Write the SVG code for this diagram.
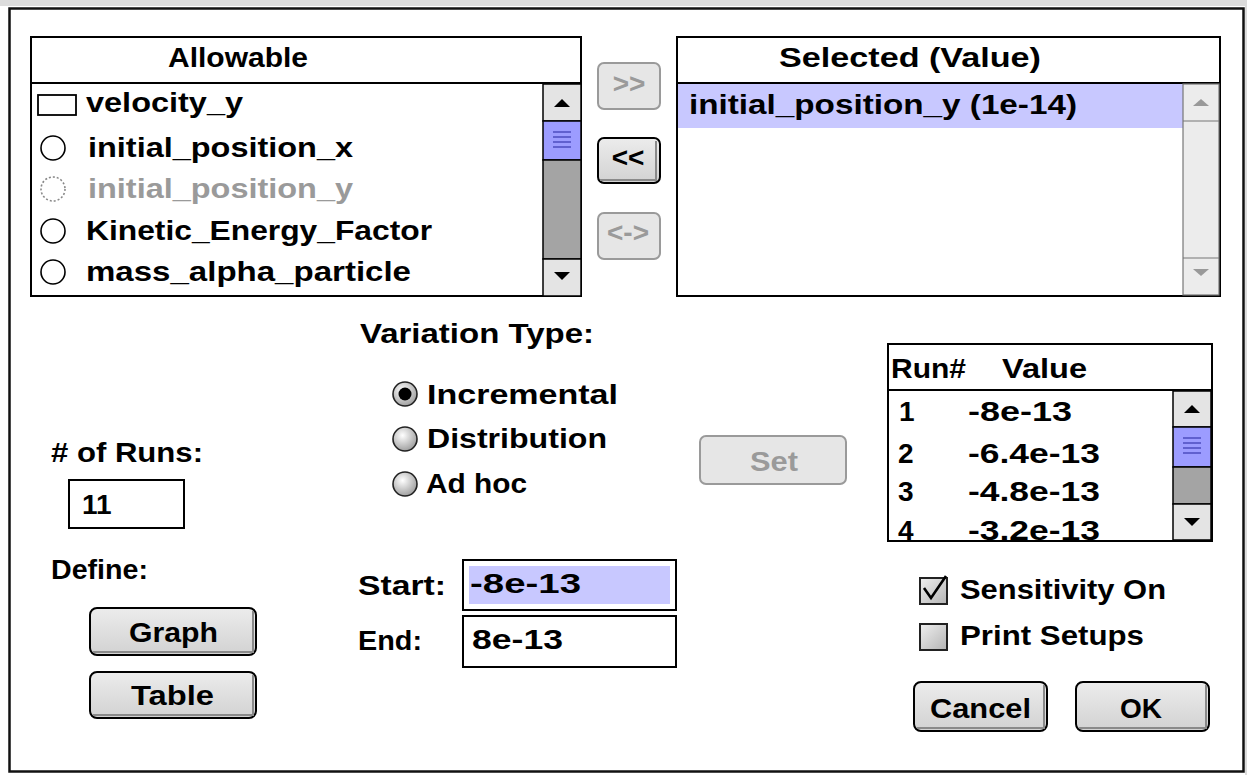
<svg xmlns="http://www.w3.org/2000/svg" width="1247" height="775" viewBox="0 0 1247 775">
  <style>
    .t { font-family: "Liberation Sans", Arial, sans-serif; font-weight: bold; font-size: 28px; fill: #000; }
    .dim { fill: #9a9a9a; }
    .mid { text-anchor: middle; }
    .box { fill: #fff; stroke: #000; stroke-width: 2; }
    .btn { fill: url(#face); stroke: #000; stroke-width: 2; }
    .btnoff { fill: #e6e6e6; stroke: #9a9a9a; stroke-width: 2; }
    .shade { fill: none; stroke: #8a8a8a; stroke-width: 2; }
    .cell { fill: #e4e4e4; stroke: #000; stroke-width: 1.5; }
    .track { fill: #a4a4a4; stroke: #000; stroke-width: 1.5; }
    .thumb { fill: #9c9cff; stroke: #000; stroke-width: 1.5; }
    .grip { stroke: #3a3ab0; stroke-width: 1.2; }
    .sel { fill: #c8c8ff; }
    .radio { fill: url(#ball); stroke: #222; stroke-width: 1.6; }
    .item { fill: #fff; stroke: #000; stroke-width: 1.6; }
  </style>
  <defs>
    <radialGradient id="ball" cx="0.4" cy="0.35" r="0.7">
      <stop offset="0" stop-color="#ffffff"/>
      <stop offset="1" stop-color="#9a9a9a"/>
    </radialGradient>
    <linearGradient id="face" x1="0" y1="0" x2="0" y2="1">
      <stop offset="0" stop-color="#ececec"/>
      <stop offset="1" stop-color="#d2d2d2"/>
    </linearGradient>
    <linearGradient id="chk" x1="0" y1="0" x2="1" y2="1">
      <stop offset="0" stop-color="#f0f0f0"/>
      <stop offset="1" stop-color="#b4b4b4"/>
    </linearGradient>
    <clipPath id="runclip"><rect x="889" y="391" width="284" height="149"/></clipPath>
  </defs>

  <!-- window frame -->
  <rect x="0" y="0" width="1247" height="775" fill="#fff"/>
  <rect x="0" y="0" width="1247" height="6" fill="#dcdcdc"/>
  <rect x="1245" y="0" width="2" height="775" fill="#dcdcdc"/>
  <rect x="9.5" y="8.5" width="1234" height="763" fill="#fff" stroke="#111" stroke-width="2.5"/>

  <!-- Allowable list -->
  <g id="allowable">
    <rect class="box" x="31" y="37" width="550" height="259"/>
    <line x1="31" y1="83" x2="581" y2="83" stroke="#000" stroke-width="2"/>
    <text class="t" x="168" y="67" textLength="140" lengthAdjust="spacingAndGlyphs">Allowable</text>
    <rect x="38" y="95" width="38" height="20" fill="#fff" stroke="#000" stroke-width="1.8"/>
    <text class="t" x="86" y="112" textLength="157" lengthAdjust="spacingAndGlyphs">velocity_y</text>
    <circle class="item" cx="53" cy="148" r="12"/>
    <text class="t" x="88" y="157" textLength="265" lengthAdjust="spacingAndGlyphs">initial_position_x</text>
    <circle cx="53" cy="189" r="12" fill="#fff" stroke="#888" stroke-width="1.6" stroke-dasharray="2 2"/>
    <text class="t dim" x="88" y="198" textLength="265" lengthAdjust="spacingAndGlyphs" font-weight="normal">initial_position_y</text>
    <circle class="item" cx="53" cy="231" r="12"/>
    <text class="t" x="86" y="240" textLength="346" lengthAdjust="spacingAndGlyphs">Kinetic_Energy_Factor</text>
    <circle class="item" cx="53" cy="272" r="12"/>
    <text class="t" x="86" y="281" textLength="325" lengthAdjust="spacingAndGlyphs">mass_alpha_particle</text>
    <!-- scrollbar -->
    <rect class="cell" x="543" y="84" width="38" height="37"/>
    <path d="M554 107 L562 99 L570 107 Z" fill="#000"/>
    <rect class="thumb" x="543" y="121" width="38" height="39"/>
    <g class="grip">
      <line x1="553" y1="132" x2="571" y2="132"/>
      <line x1="553" y1="137" x2="571" y2="137"/>
      <line x1="553" y1="142" x2="571" y2="142"/>
      <line x1="553" y1="147" x2="571" y2="147"/>
    </g>
    <rect class="track" x="543" y="160" width="38" height="99"/>
    <rect class="cell" x="543" y="259" width="38" height="37"/>
    <path d="M554 272 L570 272 L562 280 Z" fill="#000"/>
  </g>

  <!-- transfer buttons -->
  <g id="btn-add">
    <rect class="btnoff" x="598" y="63" width="62" height="46" rx="6"/>
    <text class="t dim mid" x="629" y="93" font-size="20">&gt;&gt;</text>
  </g>
  <g id="btn-remove">
    <rect class="btn" x="598" y="138" width="62" height="45" rx="6"/>
    <path class="shade" d="M600 180 H656 V141"/>
    <text class="t mid" x="628" y="167" font-size="20">&lt;&lt;</text>
  </g>
  <g id="btn-swap">
    <rect class="btnoff" x="598" y="213" width="62" height="46" rx="6"/>
    <text class="t dim mid" x="628" y="242" font-size="20">&lt;-&gt;</text>
  </g>

  <!-- Selected list -->
  <g id="selected">
    <rect class="box" x="677" y="37" width="543" height="259"/>
    <line x1="677" y1="83" x2="1220" y2="83" stroke="#000" stroke-width="2"/>
    <text class="t" x="779" y="67" textLength="262" lengthAdjust="spacingAndGlyphs">Selected (Value)</text>
    <rect class="sel" x="678" y="84" width="505" height="44"/>
    <text class="t" x="689" y="114" textLength="388" lengthAdjust="spacingAndGlyphs">initial_position_y (1e-14)</text>
    <rect x="1183" y="84" width="36" height="211" fill="#ececec" stroke="#777" stroke-width="1.2"/>
    <line x1="1183" y1="121" x2="1219" y2="121" stroke="#777" stroke-width="1.2"/>
    <line x1="1183" y1="258" x2="1219" y2="258" stroke="#777" stroke-width="1.2"/>
    <path d="M1193 106 L1201 99 L1209 106 Z" fill="#999"/>
    <path d="M1193 269 L1209 269 L1201 276 Z" fill="#999"/>
  </g>

  <!-- variation type -->
  <g id="variation">
    <text class="t" x="360" y="343" textLength="234" lengthAdjust="spacingAndGlyphs">Variation Type:</text>
    <circle class="radio" cx="405" cy="394" r="12"/>
    <circle cx="405" cy="394" r="6.5" fill="#000"/>
    <text class="t" x="427" y="404" textLength="191" lengthAdjust="spacingAndGlyphs">Incremental</text>
    <circle class="radio" cx="405" cy="439" r="12"/>
    <text class="t" x="427" y="448" textLength="180" lengthAdjust="spacingAndGlyphs">Distribution</text>
    <circle class="radio" cx="405" cy="484" r="12"/>
    <text class="t" x="426" y="493" textLength="101" lengthAdjust="spacingAndGlyphs">Ad hoc</text>
  </g>

  <!-- number of runs -->
  <g id="runs">
    <text class="t" x="51" y="462" textLength="152" lengthAdjust="spacingAndGlyphs"># of Runs:</text>
    <rect class="box" x="69" y="480" width="115" height="48"/>
    <text class="t" x="82" y="514">11</text>
  </g>

  <!-- define buttons -->
  <g id="define">
    <text class="t" x="51" y="579" textLength="97" lengthAdjust="spacingAndGlyphs">Define:</text>
  </g>
  <g id="btn-graph">
    <rect class="btn" x="90" y="608" width="166" height="47" rx="7"/>
    <path class="shade" d="M93 652 H253 V611"/>
    <text class="t" x="129" y="642" textLength="89" lengthAdjust="spacingAndGlyphs">Graph</text>
  </g>
  <g id="btn-table">
    <rect class="btn" x="90" y="672" width="166" height="46" rx="7"/>
    <path class="shade" d="M93 715 H253 V675"/>
    <text class="t" x="131" y="705" textLength="83" lengthAdjust="spacingAndGlyphs">Table</text>
  </g>

  <!-- start / end -->
  <g id="range">
    <text class="t" x="358" y="595" textLength="88" lengthAdjust="spacingAndGlyphs">Start:</text>
    <rect class="box" x="463" y="560" width="213" height="50"/>
    <rect class="sel" x="469" y="566" width="201" height="38"/>
    <text class="t" x="470" y="593" textLength="111" lengthAdjust="spacingAndGlyphs">-8e-13</text>
    <text class="t" x="358" y="650" textLength="64" lengthAdjust="spacingAndGlyphs">End:</text>
    <rect class="box" x="463" y="616" width="213" height="51"/>
    <text class="t" x="472" y="649" textLength="91" lengthAdjust="spacingAndGlyphs">8e-13</text>
  </g>

  <!-- set button -->
  <g id="btn-set">
    <rect class="btnoff" x="700" y="436" width="146" height="48" rx="6"/>
    <text class="t dim" x="750" y="471" textLength="48" lengthAdjust="spacingAndGlyphs">Set</text>
  </g>

  <!-- run table -->
  <g id="run-table">
    <rect class="box" x="888" y="344" width="324" height="197"/>
    <line x1="888" y1="390" x2="1212" y2="390" stroke="#000" stroke-width="2"/>
    <text class="t" x="891" y="378" textLength="75" lengthAdjust="spacingAndGlyphs">Run#</text>
    <text class="t" x="1002" y="378" textLength="85" lengthAdjust="spacingAndGlyphs">Value</text>
    <g clip-path="url(#runclip)">
      <text class="t" x="899" y="421">1</text>
      <text class="t" x="968" y="421" textLength="104" lengthAdjust="spacingAndGlyphs">-8e-13</text>
      <text class="t" x="898" y="463">2</text>
      <text class="t" x="968" y="463" textLength="132" lengthAdjust="spacingAndGlyphs">-6.4e-13</text>
      <text class="t" x="898" y="501">3</text>
      <text class="t" x="968" y="501" textLength="132" lengthAdjust="spacingAndGlyphs">-4.8e-13</text>
      <text class="t" x="898" y="540">4</text>
      <text class="t" x="968" y="540" textLength="132" lengthAdjust="spacingAndGlyphs">-3.2e-13</text>
    </g>
    <rect class="cell" x="1173" y="391" width="38" height="36"/>
    <path d="M1184 413 L1192 405 L1200 413 Z" fill="#000"/>
    <rect class="thumb" x="1173" y="427" width="38" height="40"/>
    <g class="grip">
      <line x1="1183" y1="438" x2="1201" y2="438"/>
      <line x1="1183" y1="443" x2="1201" y2="443"/>
      <line x1="1183" y1="448" x2="1201" y2="448"/>
      <line x1="1183" y1="453" x2="1201" y2="453"/>
    </g>
    <rect class="track" x="1173" y="467" width="38" height="37"/>
    <rect class="cell" x="1173" y="504" width="38" height="36"/>
    <path d="M1184 518 L1200 518 L1192 526 Z" fill="#000"/>
  </g>

  <!-- options -->
  <g id="opt-sensitivity">
    <rect x="920" y="578" width="27" height="26" fill="url(#chk)" stroke="#222" stroke-width="2"/>
    <path d="M924 588 L931 598 L946 576" fill="none" stroke="#000" stroke-width="2.6"/>
    <text class="t" x="960" y="599" textLength="206" lengthAdjust="spacingAndGlyphs">Sensitivity On</text>
  </g>
  <g id="opt-print">
    <rect x="920" y="624" width="27" height="26" fill="url(#chk)" stroke="#222" stroke-width="2"/>
    <text class="t" x="960" y="645" textLength="184" lengthAdjust="spacingAndGlyphs">Print Setups</text>
  </g>

  <!-- dialog buttons -->
  <g id="btn-cancel">
    <rect class="btn" x="914" y="682" width="133" height="49" rx="7"/>
    <path class="shade" d="M917 728 H1044 V685"/>
    <text class="t" x="930" y="718" textLength="101" lengthAdjust="spacingAndGlyphs">Cancel</text>
  </g>
  <g id="btn-ok">
    <rect class="btn" x="1076" y="682" width="133" height="49" rx="7"/>
    <path class="shade" d="M1079 728 H1206 V685"/>
    <text class="t" x="1120" y="718" textLength="42" lengthAdjust="spacingAndGlyphs">OK</text>
  </g>
</svg>
